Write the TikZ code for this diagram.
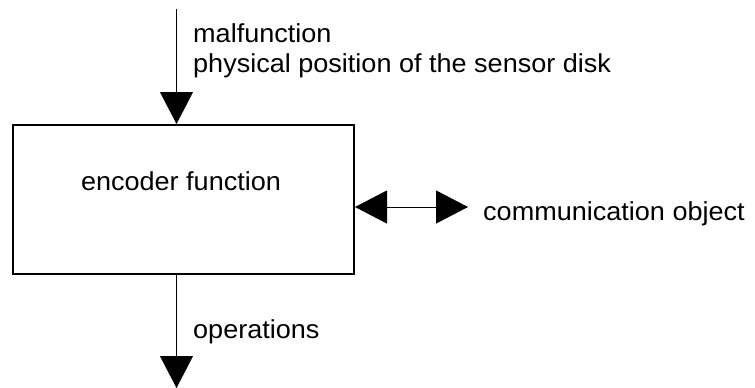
\documentclass[tikz,border=0pt]{standalone}
\usepackage{fontspec}
\setmainfont[FakeStretch=1.04]{Liberation Sans}
\usepackage{tikz}
\usetikzlibrary{arrows.meta, positioning, calc}

\begin{document}
\begin{tikzpicture}[x=1pt, y=-1pt,
    fnbox/.style={draw, line width=2pt, minimum width=341pt, minimum height=149pt, inner sep=0pt},
    flow/.style={line width=1pt, -{Triangle[length=32pt, width=33pt]}},
    flowboth/.style={line width=1pt, {Triangle[length=32pt, width=33pt]}-{Triangle[length=32pt, width=33pt]}},
    lbl/.style={font=\fontsize{26}{30}\selectfont, inner sep=0pt, anchor=base west}]
\useasboundingbox (0,0) rectangle (755,388);

% Encoder function block
\node[fnbox] (enc) at (183.5, 199.5) {};
\node[lbl, anchor=base] (encText) at (181, 190) {encoder function};

% Free ends of the connectors
\coordinate (inTop) at (176.5, 9);
\coordinate (outBot) at (176.5, 388);
\coordinate (commEnd) at (468, 207);

% Input from above
\draw[flow] (inTop) -- (inTop |- enc.north);
\node[lbl] (inMal) at (193, 42) {malfunction};
\node[lbl] (inPos) at (193, 72) {physical position of the sensor disk};

% Communication object
\draw[flowboth] (commEnd -| enc.east) -- (commEnd);
\node[lbl] (comm) at (483, 220) {communication object};

% Output below
\draw[flow] (outBot |- enc.south) -- (outBot);
\node[lbl] (ops) at (193, 338) {operations};

\end{tikzpicture}
\end{document}
